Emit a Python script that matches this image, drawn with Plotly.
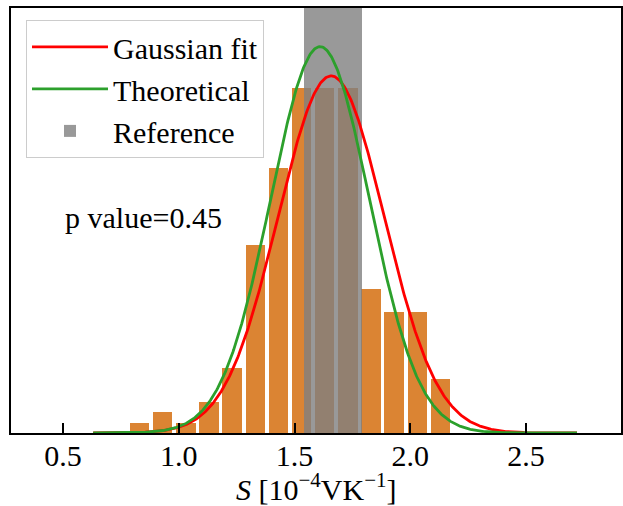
import numpy as np
import plotly.graph_objects as go

# Histogram (bin centres and heights, count units)
bin_centers = [0.83, 0.93, 1.03, 1.13, 1.23, 1.33, 1.43, 1.53, 1.63, 1.73, 1.83, 1.93, 2.03, 2.13]
bin_counts = [1.0, 2.0, 1.0, 3.0, 6.2, 18.0, 25.4, 33.0, 33.0, 33.0, 13.8, 11.6, 11.6, 5.2]
bin_width = 0.1

# Reference band
ref_low, ref_high = 1.541, 1.790

# Gaussian fit parameters (mean, sigma, peak height)
fit_mean, fit_sigma, fit_peak = 1.658, 0.229, 34.2
theo_mean, theo_sigma, theo_peak = 1.610, 0.213, 37.0

x_range = [0.275, 2.91]
y_max = 40.7
tick_vals = [0.5, 1.0, 1.5, 2.0, 2.5]
tick_text = ["0.5", "1.0", "1.5", "2.0", "2.5"]

xs = np.linspace(0.63, 2.72, 600)
fit_curve = fit_peak * np.exp(-0.5 * ((xs - fit_mean) / fit_sigma) ** 2)
theo_curve = theo_peak * np.exp(-0.5 * ((xs - theo_mean) / theo_sigma) ** 2)

FONT = "Liberation Serif"
FS = 30

fig = go.Figure()
fig.add_trace(go.Bar(x=bin_centers, y=bin_counts, width=bin_width * 0.84,
                     marker=dict(color="#DB8433", line=dict(width=0)),
                     showlegend=False, hoverinfo="skip"))
fig.add_trace(go.Bar(x=[(ref_low + ref_high) / 2], y=[y_max], width=[ref_high - ref_low],
                     marker=dict(color="rgba(128,128,128,0.8)", line=dict(width=0)),
                     name="Reference", legendrank=3, legendgroup="c"))
fig.add_trace(go.Scatter(x=xs, y=fit_curve, mode="lines", line=dict(color="#ff0000", width=2.8),
                         name="Gaussian fit", legendrank=1, legendgroup="a"))
fig.add_trace(go.Scatter(x=xs, y=theo_curve, mode="lines", line=dict(color="#2ca02c", width=2.8),
                         name="Theoretical", legendrank=2, legendgroup="b"))

fig.update_layout(
    width=623, height=506,
    margin=dict(l=11, r=2, t=8, b=73, autoexpand=False),
    plot_bgcolor="white", paper_bgcolor="white",
    barmode="overlay", bargap=0,
    font=dict(family=FONT, size=FS, color="black"),
    legend=dict(x=0.0246, y=0.972, xanchor="left", yanchor="top",
                bgcolor="rgba(255,255,255,0.8)", bordercolor="#cccccc", borderwidth=1,
                font=dict(family=FONT, size=FS), tracegroupgap=0,
                itemwidth=76),
    showlegend=True,
    annotations=[
        dict(text="p value=0.45", xref="paper", yref="paper",
             x=0.085, y=0.508, xanchor="left", yanchor="middle",
             showarrow=False, font=dict(family=FONT, size=FS)),
        dict(text="<i>S</i> [10<sup>−4</sup>VK<sup>−1</sup>]", xref="paper", yref="paper",
             x=0.5, y=-0.127, xanchor="center", yanchor="middle",
             showarrow=False, font=dict(family=FONT, size=FS)),
    ],
)
fig.update_xaxes(range=x_range, tickvals=tick_vals, ticktext=tick_text,
                 ticks="inside", ticklen=10, tickwidth=2, tickcolor="black",
                 showline=True, linecolor="black", linewidth=2, mirror=True,
                 showgrid=False, zeroline=False, automargin=False,
                 ticklabelstandoff=-5, tickfont=dict(family=FONT, size=FS))
fig.update_yaxes(range=[0, y_max], showticklabels=False, ticks="",
                 showline=True, linecolor="black", linewidth=2, mirror=True,
                 showgrid=False, zeroline=False, automargin=False)

fig.write_html("out.html", config={"displayModeBar": False},
               post_script="document.body.style.margin='0';document.body.style.overflow='hidden';")
